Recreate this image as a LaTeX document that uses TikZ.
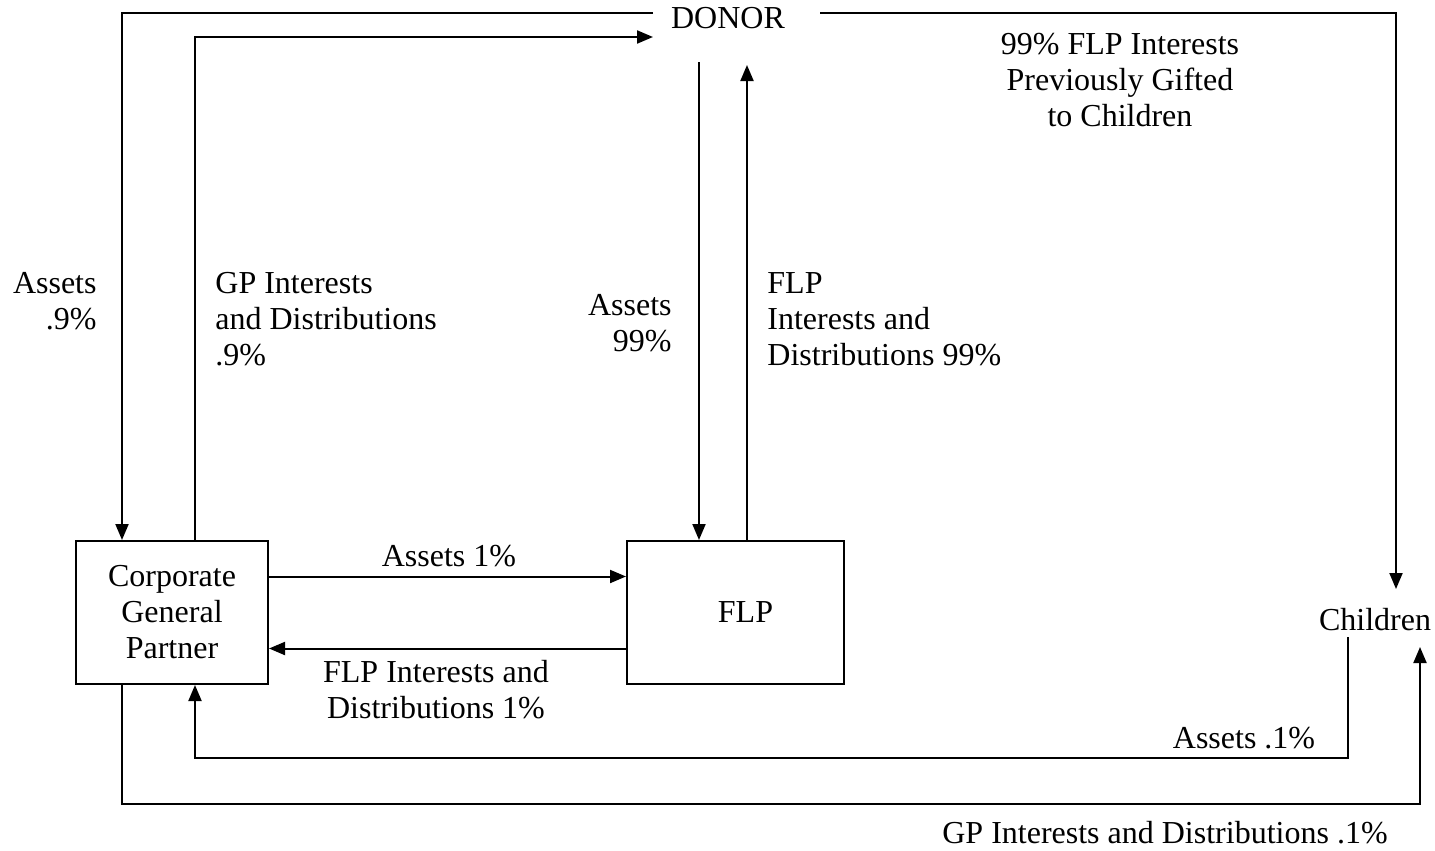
\documentclass[tikz,border=0pt]{standalone}
\usepackage{fontspec}
\setmainfont{Liberation Serif}
\usetikzlibrary{arrows.meta,calc}
\tikzset{
	flow/.style = {line width=1pt, -{Triangle[length=8pt,width=6.5pt]}},
	wire/.style = {line width=1pt},
	party/.style = {draw, line width=1pt, align=center, inner sep=0pt},
	txt/.style = {font=\fontsize{16}{18}\selectfont, inner sep=0pt}
}
\begin{document}
	\begin{tikzpicture}[x=0.5pt, y=-0.5pt]
		\useasboundingbox (0,0) rectangle (1435,851);
		% parties
		\node[txt] (donor) at (728,18) {DONOR};
		\node[party, txt, minimum width=96pt, minimum height=71.5pt] (cgp) at (172,612.5) {Corporate\\General\\Partner};
		\node[party, txt, minimum width=108.5pt, minimum height=71.5pt] (flp) at (735.5,612.5) {\hspace{10pt}FLP};
		\node[txt] (kids) at (1375,620) {Children};
		% attach points
		\coordinate (donorL)  at (653,13);
		\coordinate (donorR)  at (820,13);
		\coordinate (donorIn) at (653,37);
		\coordinate (dnA) at (699,62);
		\coordinate (dnB) at (747,65);
		\coordinate (kidsT) at ($(kids)+(21,-31)$);
		\coordinate (kidsA) at ($(kids)+(-27,17)$);
		\coordinate (kidsB) at ($(kids)+(45,27)$);
		\coordinate (lowA) at (0,758);
		\coordinate (lowB) at (0,804);
		\path (cgp.north west) ++(47,0) coordinate (cgpN1) ++(73,0) coordinate (cgpN2);
		\path (cgp.south west) ++(47,0) coordinate (cgpS1) ++(73,0) coordinate (cgpS2);
		% connectors
		\draw[flow] (donorL) -| (cgpN1);
		\draw[flow] (cgpN2) |- (donorIn);
		\draw[flow] (dnA) -- (dnA |- flp.north);
		\draw[flow] (dnB |- flp.north) -- (dnB);
		\draw[flow] (donorR) -| (kidsT);
		\draw[flow] ([yshift=18pt]cgp.east) -- ([yshift=18pt]flp.west);
		\draw[flow] ([yshift=-18pt]flp.west) -- ([yshift=-18pt]cgp.east);
		\draw[flow] (kidsA) |- (cgpS2 |- lowA) -- (cgpS2);
		\draw[flow] (cgpS1) |- (kidsB |- lowB) -- (kidsB);
		% labels
		\node[txt, align=right, anchor=east] (lAssetsL) at (97,301.5) {Assets\\.9\%};
		\node[txt, align=left, anchor=west] (lGP) at (215,319) {GP Interests\\and Distributions\\.9\%};
		\node[txt, align=right, anchor=east] (lAssetsM) at (672,323) {Assets\\99\%};
		\node[txt, align=left, anchor=west] (lFLP) at (767,319) {FLP\\Interests and\\Distributions 99\%};
		\node[txt, align=center] (lGift) at (1120,80) {99\% FLP Interests\\Previously Gifted\\to Children};
		\node[txt] (lAssets1) at (449,556) {Assets 1\%};
		\node[txt, align=center] (lFLP1) at (436,690) {FLP Interests and\\Distributions 1\%};
		\node[txt] (lAssets01) at (1244,738) {Assets .1\%};
		\node[txt] (lGP01) at (1165,833) {GP Interests and Distributions .1\%};
	\end{tikzpicture}
\end{document}
